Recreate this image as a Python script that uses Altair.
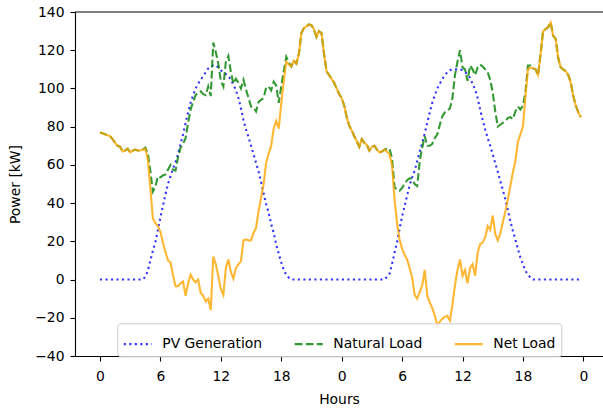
import altair as alt
import pandas as pd

# ---- data (15-minute steps, 2 days) ----
pv = [
    0, 0, 0, 0, 0, 0, 0, 0, 0, 0, 0, 0, 0, 0, 0, 0, 0, 0,
    1.5, 4.5, 10, 15, 19.5, 26,
    32.5, 38.5, 44.5, 50, 54, 58, 61.5, 65.5,
    71, 76, 82, 87.5, 92.5, 96.5, 100, 102.5,
    104.5, 106.5, 108.5, 110.5, 111.5, 112, 112, 111,
    109.5, 108.5, 107.5, 106.5, 104.5, 102, 99, 95,
    89.5, 83.5, 78.5, 74.5, 70, 65.5, 61, 56.5,
    51, 45, 39.5, 35, 29, 24.5, 18.5, 13.5,
    9, 5, 2.5, 1,
    0, 0, 0, 0, 0, 0, 0, 0, 0, 0, 0, 0, 0, 0, 0, 0, 0, 0, 0, 0,
    0, 0, 0, 0, 0, 0, 0, 0, 0, 0, 0, 0, 0, 0, 0, 0, 0, 0,
    1.5, 3, 8, 14, 19.5, 26.5,
    33, 38.5, 44, 49.5, 53.5, 57, 62, 67,
    71.5, 76.5, 82, 87.5, 92.5, 96.5, 100, 102.5,
    105, 107, 108.5, 109.5, 110, 110, 110, 110,
    109.5, 108.5, 107.5, 105.5, 102.5, 99.5, 95, 89,
    83.5, 78.5, 74, 70, 65.5, 61, 56.5, 51.5,
    47, 42, 36.5, 30.5, 25.5, 21, 16, 11.5,
    8, 4.5, 2.5, 1,
    0, 0, 0, 0, 0, 0, 0, 0, 0, 0, 0, 0, 0, 0, 0, 0, 0, 0, 0, 0,
]

natural = [
    77, 76.5, 76, 75.5, 75, 73.5, 71.5, 70, 69.5, 67, 67.5, 68.5, 66.5, 67.5, 68, 67.5, 67.5, 68,
    69, 66, 57, 46, 48.5, 54,
    53.5, 54.5, 55, 57.5, 60, 57.5, 57, 64,
    69, 71, 74, 82, 89, 93, 96.5, 98,
    98.5, 97, 96.5, 101, 96, 124, 119, 113,
    104, 101, 114, 117, 108.5, 102.5, 105, 103,
    100, 104.5, 99.5, 95, 90.5, 90, 88, 93,
    94, 95, 100.5, 101, 99, 103.5, 101.5, 92.5,
    101, 109, 116.5, 113.5,
    111.5, 114.5, 113, 118, 129, 131.5, 132.5, 133.5, 133, 131, 127, 130,
    129, 118, 109, 107, 105, 103, 100, 97,
    95, 91, 85, 80.5, 78, 75, 72.5, 69.5, 73.5, 71.5, 70.5, 67.5, 69.5, 70, 68, 66.5, 67, 68,
    68.5, 68.5, 63.5, 48.5, 47, 46.5,
    48, 50, 52, 53, 52.5, 50, 49, 62,
    69, 75, 70, 70, 71, 74, 76, 81,
    85.5, 87.5, 88.5, 89.5, 95, 107, 114, 120,
    111, 110, 104, 112, 110, 107, 111, 112.5,
    111.5, 110, 108.5, 104.5, 98, 88, 80, 81,
    82, 83, 84.5, 85, 84, 88, 90.5, 89,
    91, 98, 112, 112,
    110.5, 110, 107, 118, 130, 131, 132, 134.5, 127.5, 126, 116, 111,
    110, 109, 107, 103, 96, 91, 87.5, 85,
]

net = [
    77, 76.5, 76, 75.5, 75, 73.5, 71.5, 70, 69.5, 67, 67.5, 68.5, 66.5, 67.5, 68, 67.5,
    67.5, 68, 68.5, 63, 48, 32, 29.5, 28,
    25, 19.5, 14.5, 10, 9, 2.5, -3.5, -3.5,
    -2, -1, -8.5, -2, 2.5, 0, -1.5, 0,
    -7, -8.5, -11.5, -10, -16, 12, 8, 2,
    -5, -8, 6, 10.5, 4, 0.5, 6, 8,
    9.5, 20.5, 21, 20.5, 20.5, 24.5, 27, 36,
    43, 50, 61, 66, 70, 79, 83, 79,
    92, 104, 114, 112.5, 111.5, 114.5, 113, 118,
    129, 131.5, 132.5, 133.5, 133, 131, 127, 130,
    129, 118, 109, 107, 105, 103, 100, 97,
    95, 91, 85, 80.5, 78, 75, 72.5, 69.5,
    73.5, 71.5, 70.5, 67.5, 69.5, 70, 68, 66.5,
    67, 68, 67, 65.5, 60, 42, 29.5, 21,
    16, 13, 10.5, 6, 1, -8, -10, -6.5,
    -3, 5, -8.5, -12, -15, -19, -24, -22,
    -20.5, -19.5, -19, -21.5, -13, -3, 5, 10.5,
    2, 5, -2, 6, 8, 2, 14, 18.5,
    19.5, 22, 28, 26, 33.5, 24, 20.5, 24,
    30, 35.5, 42, 49, 56, 62, 72, 76,
    80, 96, 110, 111, 110.5, 110, 107, 118,
    130, 131, 132, 134.5, 127.5, 126, 116, 111,
    110, 109, 107, 103, 96, 91, 87.5, 85,
]

series_names = ["PV Generation", "Natural Load", "Net Load"]
series_colors = ["#0000ff", "#008000", "#ffa500"]
series_dashes = [[2.1, 3.4], [7.7, 3.3], [1, 0]]
x_ticks = [0, 6, 12, 18, 24, 30, 36, 42, 48]
y_ticks = [-40, -20, 0, 20, 40, 60, 80, 100, 120, 140]

hours = [i * 0.25 for i in range(len(pv))]
rows = []
for name, vals in zip(series_names, [pv, natural, net]):
    for h, v in zip(hours, vals):
        rows.append({"h": h, "value": v, "series": name})
df = pd.DataFrame(rows)

FONT = "DejaVu Sans"
FS = 13.9
W, H = 528, 344

color_scale = alt.Scale(domain=series_names, range=series_colors)
dash_scale = alt.Scale(domain=series_names, range=series_dashes)

leg = alt.Legend(
    orient="none", legendX=42.3, legendY=311.3, direction="horizontal",
    title=None, symbolType="stroke", symbolSize=784, symbolStrokeWidth=2.1,
    symbolOpacity=0.8, labelFont=FONT, labelFontSize=FS, labelColor="black",
    padding=5, fillColor="rgba(255,255,255,0.8)", strokeColor="#cccccc",
    cornerRadius=3, labelOffset=9, columnPadding=28, labelLimit=400,
)

x_enc = alt.X(
    "h:Q",
    scale=alt.Scale(domain=[-2.48, 49.95], nice=False, zero=False),
    axis=alt.Axis(values=x_ticks, labelExpr="datum.value % 24", title="Hours",
                  grid=False, tickSize=5, labelPadding=8, titleY=47,
                  titleBaseline="alphabetic"),
)
y_enc = alt.Y(
    "value:Q",
    scale=alt.Scale(domain=[-40, 140], nice=False, zero=False),
    axis=alt.Axis(values=y_ticks,
                  labelExpr="replace(format(datum.value, 'd'), '-', '\u2212')",
                  title="Power [kW]", grid=False, tickSize=5, labelPadding=6,
                  titleX=-59.5, titleY=172, titleAngle=270,
                  titleBaseline="middle", titleAlign="center"),
)

layers = []
for name in series_names:
    layers.append(
        alt.Chart(df)
        .transform_filter(alt.datum.series == name)
        .mark_line(strokeWidth=2.1, opacity=0.8, strokeCap="butt", clip=True)
        .encode(
            x=x_enc,
            y=y_enc,
            color=alt.Color("series:N", scale=color_scale, legend=leg),
            strokeDash=alt.StrokeDash("series:N", scale=dash_scale, legend=leg),
        )
    )

top_spine = (
    alt.Chart(pd.DataFrame({"k": [0]}))
    .mark_rule(color="black", strokeWidth=1.1)
    .encode(y=alt.value(0))
)

chart = (
    alt.layer(*layers, top_spine)
    .properties(
        width=W, height=H,
        autosize=alt.AutoSizeParams(type="none"),
        padding={"left": 75, "top": 12, "right": 0, "bottom": 53},
        background="white",
    )
    .configure_view(stroke=None)
    .configure_axis(
        domainColor="black", tickColor="black", labelColor="black",
        titleColor="black", labelFont=FONT, titleFont=FONT,
        labelFontSize=FS, titleFontSize=FS, titleFontWeight="normal",
        domainWidth=1.1, tickWidth=1.1,
    )
)

chart.save("out.html", embed_options={"renderer": "svg", "actions": False})
